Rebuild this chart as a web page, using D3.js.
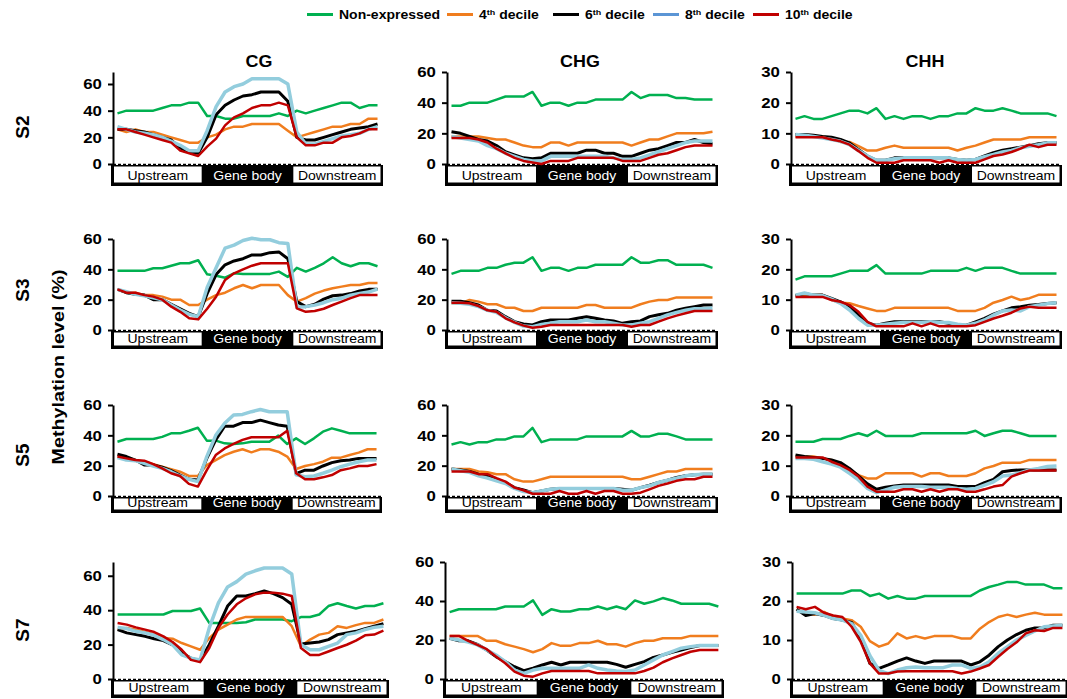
<!DOCTYPE html>
<html><head><meta charset="utf-8">
<script src="https://cdn.jsdelivr.net/npm/d3@7"></script>
<style>body{margin:0;background:#fff}svg{display:block}text{font-family:Arial,"Liberation Sans",sans-serif}</style>
</head><body><svg id="c" width="1067" height="699"></svg>
<script>
// ---------- categories / labels ----------
const rows = ["S2","S3","S5","S7"];
const contexts = ["CG","CHG","CHH"];
const seriesNames = ["Non-expressed","4th decile","6th decile","8th decile","10th decile"];
const regions = ["Upstream","Gene body","Downstream"];
const ticksByContext = [[0,20,40,60],[0,20,40,60],[0,10,20,30]];
const axisMax = [[69,60,30],[60,60,30],[60,60,30],[68,60,30]];
const yTitle = "Methylation level (%)";

// ---------- data: S2 ----------
const s2_cg_non = [38,40,40,40,40,42,44,44,46,46, 36,36,34,34,36,36,36,36,38,36, 40,38,40,42,44,46,46,42,44,44];
const s2_cg_d4  = [26,24,26,24,24,22,20,18,16,16, 20,22,26,28,28,30,30,30,30,25, 20,22,24,26,28,28,30,30,34,34];
const s2_cg_d6  = [26,26,25,24,22,20,18,12,9,8, 20,37,44,48,51,52,54,54,54,47, 20,18,18,20,22,24,26,27,28,30];
const s2_cg_d8  = [28,26,24,23,22,20,17,14,10,10, 25,43,54,58,60,64,64,64,64,60, 24,15,15,17,19,21,22,23,26,28];
const s2_cg_d10 = [26,26,24,22,20,18,16,10,8,6, 13,19,29,35,38,42,44,44,46,44, 20,14,14,16,16,20,21,23,26,26];

const s2_chg_non = [38,38,40,40,40,42,44,44,44,47, 38,40,40,38,40,40,42,42,42,42, 47,43,45,45,45,43,43,42,42,42];
const s2_chg_d4  = [18,18,18,18,17,16,16,14,12,11, 11,14,14,12,14,14,14,14,14,14, 12,14,16,16,18,20,20,20,20,21];
const s2_chg_d6  = [21,20,18,16,15,12,8,6,4,3.5, 4,7,7,7,7,9,9,7,7,5, 5,7,9,10,12,14,14,16,14,13];
const s2_chg_d8  = [18,17,16,15,12,10,7,5,3,2, 2,5,5,5,5,5,5,5,4,3, 3,4,6,8,10,12,14,15,15,15];
const s2_chg_d10 = [17,17,17,16,14,10,7,4,2,1, 0,2,2,2,4,4,4,4,4,2, 2,2,4,6,7,9,11,12,12,12];

const s2_chh_non = [14.7,15.6,14.7,14.7,15.6,16.5,17.4,17.4,16.5,18.2, 14.7,15.6,14.7,15.6,15.6,14.7,15.6,15.6,16.5,16.5, 18.2,17.4,17.4,18.2,17.4,16.5,16.5,16.5,16.5,15.6];
const s2_chh_d4  = [9,9,9,9,8.3,7.2,7.2,5.8,4.4,4.4, 5.3,6,5.3,5.3,5.3,5.3,5.3,5.3,4.4,5.3, 6,7,8,8,8,8,8.7,8.7,8.7,8.7];
const s2_chh_d6  = [9.6,9.6,9.4,9,8.7,8,6.9,4.7,2.6,1.2, 1.2,2,2,2,2,2,2,2,1.5,1.2, 1.5,2.6,3.7,4.5,5,5.5,6,6.6,6.9,6.9];
const s2_chh_d8  = [9.6,9.4,9,8.5,8,7.4,6.3,4.4,2.6,1.2, 1.2,1.7,2,2,2,2,2,2,1.5,1.2, 1.5,2.4,3.1,3.9,4.4,5.3,5.8,6.3,6.9,6.9];
const s2_chh_d10 = [8.7,8.7,8.7,8.7,8,7.4,6.3,4.2,2,0.4, 0.4,0.4,1.2,1.2,1.2,1.2,0.4,1.2,0.4,0.4, 0.4,1.5,2.6,3.1,3.9,5,6.3,5.5,6.3,6.3];

// ---------- data: S3 ----------
const s3_cg_non = [39,39,39,39,40.7,40.7,42.4,44,44,46, 36.7,35.8,34.5,37.4,37,37,37,37,38.5,35, 41,38.5,41,44,48,44,42,44,44,42];
const s3_cg_d4  = [26.8,24.6,24.6,23,23,22,20,20,16.5,16.5, 20,23,24.6,27.5,29.7,27.5,29.7,29.7,29.7,23, 18.7,21,24,26,27.5,28.6,29.7,29.7,31,31];
const s3_cg_d6  = [26.8,24.6,23.5,23,20,20,17,14,11,8.8, 24,36.6,43,45.5,47,49.5,49.5,51,51.5,47, 18.7,15.4,17,20.4,22.6,23,24,25.7,26.8,26.8];
const s3_cg_d8  = [26.8,25.3,23.5,22.6,21.3,20,16.5,13.2,10.3,8.8, 28,41,54,56,59,60.5,59.5,59.5,57.6,57, 15,15.4,16.4,18,20,21,23,24,25,27];
const s3_cg_d10 = [26.8,24.6,24.6,23,22,20,15.4,12,7.7,7, 14,22,33,37.4,40,42.4,44,44,44,44, 14.3,12,12.5,14,16.5,18.7,21,23,23,23];

const s3_chg_non = [37,39,39,39,41,41,43,44.4,44.4,48, 39,41,41,39,41,41,43,43,43,43, 48,44.4,44.4,46,46,43,43,43,43,41];
const s3_chg_d4  = [17.6,17.6,19.8,18.7,17,17,14.7,14.7,12.5,12.5, 14.7,14.7,14.7,14.7,14.7,16.5,16.5,14.7,14.7,14.7, 14.7,17,18.7,19.8,19.8,21.5,21.5,21.5,21.5,21.5];
const s3_chg_d6  = [19,19,18,16.5,13,12.5,8.8,5.5,4,3.3, 5.5,6.6,6.6,6.6,7.7,8.8,7.7,6.6,6,4.4, 5.5,6,8.8,10,11,13,14.3,15.4,16.5,16.5];
const s3_chg_d8  = [18,17.6,17,15.4,13,11.6,8,5,2.6,2.2, 3.7,4.4,5.5,5.5,5.5,6.6,5.5,5.5,4.4,3.3, 3.3,4.4,5.5,7.7,10,11.6,13,14,14,14.5];
const s3_chg_d10 = [18,18,17.6,15.8,13,12,7.7,5,2.9,1.5, 2.2,3.3,3.3,3.3,3.3,3.3,3.3,3.3,3.3,3.3, 2.2,3.3,3.3,5.5,7.7,9.5,11,12.5,12.5,12.5];

const s3_chh_non = [16.6,17.7,17.7,17.7,17.7,18.6,19.5,19.5,19.5,21.4, 18.6,18.6,18.6,18.6,18.6,19.5,19.5,19.5,19.5,20.5, 19.5,20.5,20.5,20.5,19.5,18.6,18.6,18.6,18.6,18.6];
const s3_chh_d4  = [11.5,11.5,11.5,11.5,9.9,9,8.8,7.9,7.1,6.3, 6.3,7.3,7.3,7.3,7.3,7.3,7.3,7.3,6.3,6.3, 6.3,7.3,9,9.9,11,9.9,10.5,11.6,11.6,11.6];
const s3_chh_d6  = [11.3,12,11.5,11.5,10.4,9.3,7.7,4.9,2.2,1.6, 2.2,2.7,2.7,2.7,2.7,2.7,2.7,2.2,1.6,1.6, 2.7,3.8,5.2,6.3,7.3,7.7,8.2,8.4,8.7,9];
const s3_chh_d8  = [11.5,12.2,11.5,11.3,10.2,8.8,6.6,3.8,1.6,1.6, 1.9,2.2,2.5,2.5,2.5,2.7,2.5,2.5,1.9,1.6, 2.2,3.3,4.9,6.3,6.6,6.3,7.7,8.2,8.7,9];
const s3_chh_d10 = [10.9,10.9,10.9,10.9,9.9,9.3,8.2,6,2.7,1.2, 1.2,1.2,1.2,2.2,1.2,2.2,1.2,1.2,1.2,1.2, 1.6,2.7,3.8,4.7,5.7,7.1,7.7,7.3,7.3,7.3];

// ---------- data: S5 ----------
const s5_cg_non = [35.8,37.6,37.6,37.6,37.6,39,41.3,41.3,43,45, 36.5,36.5,34.7,34.3,34.7,35.8,35.8,35.8,39.8,34.3, 38,34.3,38,42.4,44.6,43,41.3,41.3,41.3,41.3];
const s5_cg_d4  = [26,25.3,23.7,22.6,21,19.3,17.6,16,13.2,13.2, 20.4,23.7,27,29.2,30.8,28.8,30.8,30.8,29.2,26, 17.8,19.8,21,22.6,25.3,25.3,27,28.6,30.8,30.8];
const s5_cg_d6  = [27.5,26,23.7,20.4,20.4,19,16.7,13.8,11,10.5, 24.8,37,46,46,48.4,48.4,50,48.4,46.8,46, 14.7,17,17,19.8,22,23.3,23.7,24.8,24.8,24.8];
const s5_cg_d8  = [25.3,23.7,23.3,21.5,19.8,18.2,16,13.2,11,9.5, 26,40,48,53.4,53.8,55.6,57,55.6,55.6,55.6, 14,12.7,13.2,15,17,19.3,21,22.6,23.7,23.7];
const s5_cg_d10 = [26,24.8,23.7,23.3,21,18.2,15,13.2,8,6.2, 17,27,31.4,34.3,37,38.7,38.7,38.7,38.7,43, 15,11,11,12.3,13.8,17,18.2,19.8,19.8,21];

const s5_chg_non = [34,35.5,34,35.5,35.5,37.3,37.3,39.3,39.3,44.9, 35.5,37.3,37.3,37.3,37.3,39.3,39.3,39.3,39.3,39.3, 42.9,39.3,39.3,41,41,39.3,37.3,37.3,37.3,37.3];
const s5_chg_d4  = [17.8,17.8,17.8,16.2,15.6,14.4,14.4,11,9.5,9.5, 11,12.7,12.7,12.7,12.7,12.7,12.7,12.7,12.7,12.7, 11,11,12.7,14.4,16.2,16.2,17.8,17.8,17.8,17.8];
const s5_chg_d6  = [17.8,17.1,16.2,14.4,13.3,11,8.9,5.5,4,2.2, 3.3,4.4,5,5,5,5,5,5,5,4.4, 3.8,5.5,7.1,8.9,10.4,12.2,13.3,14,14.4,14.4];
const s5_chg_d8  = [17.8,16.7,15.6,13.3,11.8,10,8.2,5,2.9,2.2, 3.3,4.4,5,5,5,5,5,5,5,3.8, 3.8,5.5,6.7,8.9,10.4,11.8,13.3,14,14.4,14.4];
const s5_chg_d10 = [16.2,16.2,16.2,14.4,14.4,11.8,9.5,5.5,3.8,1.5, 1.5,1.5,3.3,1.5,1.5,3.3,1.5,3.3,3.3,1.5, 1.5,2.2,4.4,6.7,8.2,10,11,11,12.7,12.7];

const s5_chh_non = [17.9,17.9,17.9,18.8,18.8,18.8,19.8,20.7,19.8,21.5, 19.8,19.8,19.8,19.8,20.7,20.7,20.7,20.7,20.7,20.7, 21.5,19.8,20.7,21.5,21.5,20.7,19.8,19.8,19.8,19.8];
const s5_chh_d4  = [13,13,13,12.4,11.9,10.5,8.8,6.9,5.8,5.8, 7.5,7.5,7.5,7.5,6.4,7.5,7.5,6.6,6.6,6.6, 7.5,9.1,9.9,11,11,11,11.9,11.9,11.9,11.9];
const s5_chh_d6  = [13.5,13,12.7,12.4,11.9,11,9.1,6.6,4,2.2, 2.9,3.3,3.6,3.6,3.6,3.6,3.6,3.6,3.1,3.1, 3.1,4.4,5.5,8,8.4,8.6,8.6,8.6,8.6,8.6];
const s5_chh_d8  = [12.4,12.4,12.1,11.3,10.5,9.5,7.5,5.3,2.5,1.1, 2,2.9,3.1,3.1,3.1,2.9,2.9,2.9,2.5,2.2, 2.5,3.6,4.7,6.6,6.9,7.7,8.6,9.1,9.7,9.9];
const s5_chh_d10 = [12.7,12.7,12.7,12.7,11.3,10.2,8.6,6.4,3.1,1.4, 1.4,1.4,2.2,2.2,1.4,2.2,1.4,2.2,2.2,1.4, 1.4,2.2,3.1,3.6,6.4,7.5,8.4,8.4,8.4,8.4];

// ---------- data: S7 ----------
const s7_cg_non = [37.5,37.5,37.5,37.5,37.5,37.5,39.5,39.5,39.5,41, 32.6,32.6,32.6,32.6,33,34.6,34.6,34.6,34.6,33.6, 36,36,37.5,42.4,44,42.4,41,42.4,42.4,44];
const s7_cg_d4  = [28.7,29.7,28.7,27.3,25.8,23.8,23.4,20.9,19,17, 23.8,28.7,31.6,34.6,36.1,36.1,36.1,36.1,36.1,30.7, 19,22.9,25.8,26.8,30.7,29.7,31.3,32.6,32.6,34.6];
const s7_cg_d6  = [28.7,26.8,25.8,24.8,23.4,22.3,19.9,15,12.1,10.5, 19.9,30.7,42.4,48.2,48.2,49.6,51.2,49.6,47.3,43.4, 20.3,20.9,21.5,22.9,25.8,26.8,27.7,29.3,30.7,32.2];
const s7_cg_d8  = [30,29.3,27.7,26.8,25.4,22.9,19.9,14,12.1,11.1, 29.7,44.3,53.5,56.6,61,62.9,64.5,64.5,64.5,61, 19.9,17,17,19,20.9,25.8,26.8,28.7,30,30.7];
const s7_cg_d10 = [32.6,31.6,30,28.7,27.3,24.8,21.5,17,11.1,9.8, 18,29.7,37.5,43.4,46.9,49.2,50.2,50.2,49.6,48.2, 18,14,14,16,18,19.9,22.3,25.4,25.8,28.1];

const s7_chg_non = [34.3,35.8,35.8,35.8,35.8,35.8,37.2,37.2,37.2,40.3, 32.9,35.8,34.6,34.6,35.8,35.8,37.2,35.8,37.2,35.8, 40.3,38.6,39.8,41.5,40.3,38.6,38.6,38.6,38.6,37.2];
const s7_chg_d4  = [22.1,22.1,22.1,22.1,19.6,19.6,17.8,16.6,15.3,13.7, 15.3,18.4,17,17,18.4,18.4,19.6,17.8,17.8,16.6, 18.4,19.6,19.6,20.9,20.9,20.9,22.1,22.1,22.1,22.1];
const s7_chg_d6  = [20.9,19.6,19.6,17.8,14.9,11.5,8.9,6.3,4.3,5.5, 7.2,8.6,7.2,8.6,8.6,8.6,8.6,8.6,7.5,6, 7.5,8.9,11.1,12.3,13.7,14.9,16.1,17.2,17.2,17.2];
const s7_chg_d8  = [20.9,20,18.9,17.5,14.9,12.3,8.9,4.6,2.9,4.6, 5.5,5.5,5.5,5.5,5.5,7.2,5.5,4.6,4.1,3.8, 4.6,7.2,9.8,12.3,14,15.8,16.6,17.2,17.2,17.2];
const s7_chg_d10 = [22.1,22.1,19.6,17.5,15.3,11.5,8.1,3.8,1.7,1.2, 2.9,4.1,4.1,4.1,4.1,4.1,2.9,2.9,2.9,2.9, 2.9,4.1,5.8,8.6,10.6,12.3,14,14.9,14.9,14.9];

const s7_chh_non = [21.9,21.9,21.9,21.9,21.9,21.9,22.7,22.7,21.3,21.9, 20.6,21.3,20.6,20.6,21.3,21.3,21.3,21.3,21.3,21.3, 22.7,23.6,24.2,24.9,24.9,24.2,24.2,24.2,23.3,23.3];
const s7_chh_d4  = [17.9,16.8,16.5,17.2,15.9,15.5,15.1,13.4,9.7,8.3, 9.1,11.7,10.4,11,10.4,11,11,11,10.4,10.4, 12.9,14.6,15.9,16.5,15.9,16.5,17,16.5,16.5,16.5];
const s7_chh_d6  = [17.9,16.3,16.8,16.3,15.5,15.1,14.5,10.4,4,2.7, 3.6,4.6,5.4,4.6,4,4.6,4.6,4.6,4.6,3.6, 4.4,6.1,8.3,10,11.4,12.5,13.1,13.1,13.8,13.8];
const s7_chh_d8  = [17.4,17.2,17,16.3,15.5,15.1,14.2,11.2,6,2.2, 1.4,2.3,2.9,3.1,2.9,2.9,2.9,3.6,3.6,2.7, 3.1,4.4,6.6,8.3,10,11.2,12.3,13.4,13.6,13.8];
const s7_chh_d10 = [18.5,17.9,18.5,17,16.3,15.9,13.4,9.5,4,1.4, 1.4,1.9,2,2,2,2,2,2,1.4,1.9, 2.7,3.6,5.7,7.7,9.4,11.7,12.5,12.3,13.1,13.1];

// table built from the named arrays
const table = [
  [[s2_cg_non,s2_cg_d4,s2_cg_d6,s2_cg_d8,s2_cg_d10],[s2_chg_non,s2_chg_d4,s2_chg_d6,s2_chg_d8,s2_chg_d10],[s2_chh_non,s2_chh_d4,s2_chh_d6,s2_chh_d8,s2_chh_d10]],
  [[s3_cg_non,s3_cg_d4,s3_cg_d6,s3_cg_d8,s3_cg_d10],[s3_chg_non,s3_chg_d4,s3_chg_d6,s3_chg_d8,s3_chg_d10],[s3_chh_non,s3_chh_d4,s3_chh_d6,s3_chh_d8,s3_chh_d10]],
  [[s5_cg_non,s5_cg_d4,s5_cg_d6,s5_cg_d8,s5_cg_d10],[s5_chg_non,s5_chg_d4,s5_chg_d6,s5_chg_d8,s5_chg_d10],[s5_chh_non,s5_chh_d4,s5_chh_d6,s5_chh_d8,s5_chh_d10]],
  [[s7_cg_non,s7_cg_d4,s7_cg_d6,s7_cg_d8,s7_cg_d10],[s7_chg_non,s7_chg_d4,s7_chg_d6,s7_chg_d8,s7_chg_d10],[s7_chh_non,s7_chh_d4,s7_chh_d6,s7_chh_d8,s7_chh_d10]]
];

// ---------- layout & style ----------
const SX = 1.12; // horizontal glyph stretch seen in the reference
const lineColors = ["#00b050","#f07d1e","#000000","#93cddd","#c00000"];
const legendColors = ["#00b050","#f07d1e","#000000","#5b95d5","#c00000"];
const lineWidths = [2.5,2.5,3,3.5,2.5];
const drawOrder = [0,1,2,3,4];
const colSpans = [[[113,382],[447,717],[791,1061]],[[113,382],[447,717],[791,1061]],[[113,381],[447,717],[791,1061]],[[113,388],[445,723],[792,1067]]];
const rowSpans = [[72,164],[239,330],[405,496],[562,679]];
const boxBottoms = [186,349,513,698];
const titleX = [259,580,925];
const rowLabelY = [127,290,455,630];

const svg = d3.select("#c");
svg.append("rect").attr("width",1067).attr("height",699).attr("fill","#fff");

// legend
const legX = [307,447,553,653,753];
const leg = svg.append("g");
seriesNames.forEach((name,k)=>{
  const x0 = legX[k];
  leg.append("line").attr("x1",x0).attr("x2",x0+26).attr("y1",14.5).attr("y2",14.5)
    .attr("stroke",legendColors[k]).attr("stroke-width",3);
  const t = leg.append("text").attr("transform",`translate(${x0+32},19) scale(${SX},1)`)
    .attr("font-size",12.5).attr("font-weight","bold").attr("fill","#000");
  const m = name.match(/^(\d+)(th)(.*)$/);
  if(m){
    t.append("tspan").text(m[1]);
    t.append("tspan").attr("font-size",8).attr("dy",-4.5).text(m[2]);
    t.append("tspan").attr("dy",4.5).text(m[3]);
  } else t.text(name);
});

// column titles
contexts.forEach((c,j)=>{
  svg.append("text").attr("transform",`translate(${titleX[j]},67) scale(${SX},1)`)
    .attr("text-anchor","middle").attr("font-size",16).attr("font-weight","bold").text(c);
});
// row labels
rows.forEach((r,i)=>{
  svg.append("text").attr("transform",`translate(29,${rowLabelY[i]}) rotate(-90)`)
    .attr("text-anchor","middle").attr("font-size",19).attr("font-weight","bold").text(r);
});
// y title
svg.append("text").attr("transform","translate(64,367) rotate(-90)")
  .attr("text-anchor","middle").attr("font-size",17).attr("font-weight","bold")
  .attr("textLength",195).attr("lengthAdjust","spacingAndGlyphs").text(yTitle);

// panels
rows.forEach((r,i)=>{
  contexts.forEach((c,j)=>{
    const [X0,X1] = colSpans[i][j];
    const [T,B] = rowSpans[i];
    const x = d3.scalePoint().domain(d3.range(30)).range([X0,X1]).padding(0.5);
    const y = d3.scaleLinear().domain([0,axisMax[i][j]]).range([B,T]);
    const g = svg.append("g");
    const line = d3.line().x((d,k)=>x(k)).y(d=>y(d));

    // region box
    const W = X1-X0, bb = boxBottoms[i];
    g.append("rect").attr("x",X0-2).attr("y",B+1).attr("width",W+3).attr("height",bb-B-1).attr("fill","#000");
    g.append("rect").attr("x",X0+1).attr("y",B+2.5).attr("width",W/3-2).attr("height",bb-B-6).attr("fill","#fff");
    g.append("rect").attr("x",X0+2*W/3+1).attr("y",B+2.5).attr("width",W/3-2.5).attr("height",bb-B-6).attr("fill","#fff");
    regions.forEach((lab,k)=>{
      g.append("text").attr("transform",`translate(${X0+W*(k+0.5)/3},${bb-6}) scale(${SX},1)`)
        .attr("text-anchor","middle").attr("font-size",12.5)
        .attr("fill",k===1?"#fff":"#000").text(lab);
    });
    // dashed zero line
    g.append("line").attr("x1",X0).attr("x2",X1).attr("y1",B+0.5).attr("y2",B+0.5)
      .attr("stroke","#000").attr("stroke-width",1.5).attr("stroke-dasharray","3,2");

    // series lines
    drawOrder.forEach(s=>{
      g.append("path").datum(table[i][j][s]).attr("d",line).attr("fill","none")
        .attr("stroke",lineColors[s]).attr("stroke-width",lineWidths[s])
        .attr("stroke-linejoin","round");
    });

    // axis
    const ax = g.append("g").attr("transform",`translate(${X0},0)`)
      .call(d3.axisLeft(y).tickValues(ticksByContext[j]).tickSize(5).tickSizeOuter(0).tickPadding(5));
    ax.select(".domain").attr("stroke","#000").attr("stroke-width",2);
    ax.selectAll(".tick line").attr("stroke","#000").attr("stroke-width",2);
    ax.selectAll(".tick text").attr("font-size",15).attr("font-weight","bold").attr("fill","#000")
      .attr("font-family","Arial, 'Liberation Sans', sans-serif")
      .attr("transform",`scale(${SX},1)`);
  });
});
</script></body></html>
